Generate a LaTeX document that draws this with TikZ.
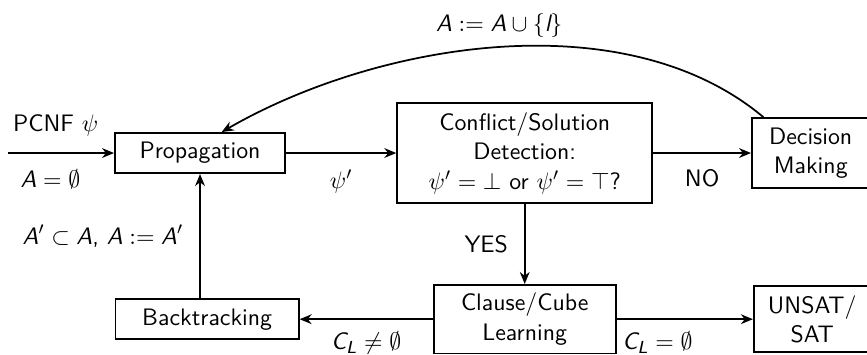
\documentclass[tikz,border=0pt]{standalone}
\usepackage{amsmath}
\usetikzlibrary{arrows.meta, positioning}
\newcommand{\sv}[1]{\text{\sffamily\itshape #1}}

\begin{document}
\begin{tikzpicture}[
    every node/.style={font=\sffamily\fontsize{10.95}{13.6}\selectfont},
    box/.style={draw, thick, align=center, inner sep=2pt},
    arr/.style={-{Stealth[length=5.5pt,width=4.5pt]}, thick},
]
\useasboundingbox (-3.23,-3.246) rectangle (10.77,2.471);

%% -- top row ------------------------------------------------------------------
\node[box, minimum width=2.75cm, minimum height=0.65cm]
  (prop) at (0,0) {Propagation};
\node[box, minimum width=4.12cm, minimum height=1.62cm, right=1.78cm of prop]
  (detect) {Conflict/Solution\\Detection:\\$\psi'=\bot$ or $\psi'=\top$?};
\node[box, minimum width=1.9cm, minimum height=1.13cm, right=1.58cm of detect]
  (decide) {Decision\\Making};

%% -- bottom row ---------------------------------------------------------------
\node[box, minimum width=2.94cm, minimum height=1.11cm, below=1.29cm of detect]
  (learn) {Clause/Cube\\Learning};
\node[box, minimum width=2.96cm, minimum height=0.65cm, left=2.15cm of learn]
  (back) {Backtracking};
\node[box, minimum width=1.89cm, minimum height=1.07cm, right=2.2cm of learn]
  (result) {UNSAT/\\SAT};

\coordinate (start) at (-3.10,0);

%% -- arrows -------------------------------------------------------------------
\draw[arr] (start) -- node[above=4pt, pos=0.45]{PCNF $\psi$}
  node[below=4pt, pos=0.4]{$\sv{A}=\emptyset$} (prop);
\draw[arr] (prop) -- node[below=4pt]{$\psi'$} (detect);
\draw[arr] (detect) -- node[below=4pt]{NO} (decide);
\draw[arr] (detect) -- node[left=4pt]{YES} (learn);
\draw[arr] (learn) -- node[below=2pt]{$\sv{C}_{\sv{L}}\neq\emptyset$} (back);
\draw[arr] (learn) -- node[below=2pt, pos=0.3]{$\sv{C}_{\sv{L}}=\emptyset$} (result);
\draw[arr] (back.north -| prop.south) --
  node[left=4pt]{$\sv{A}'\subset\sv{A}$, $\sv{A}:=\sv{A}'$} (prop.south);

%% -- decision feeds back into propagation ---------------------------------------
\draw[arr] ([xshift=0.2cm]decide.north west) to[out=140, in=30, looseness=0.85]
  node[above=1pt]{$\sv{A}:=\sv{A}\cup\{\sv{l}\}$} ([xshift=0.35cm]prop.north);

\end{tikzpicture}
\end{document}
